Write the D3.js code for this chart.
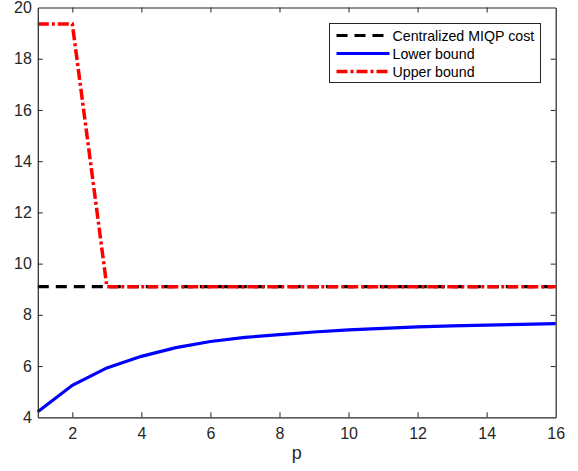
<!DOCTYPE html>
<html><head><meta charset="utf-8">
<script src="https://cdn.jsdelivr.net/npm/d3@7"></script>
<style>body{margin:0;background:#fff}svg{display:block}</style>
</head><body>
<svg id="c" width="578" height="471"></svg>
<script>
const pValues = [1,2,3,4,5,6,7,8,9,10,11,12,13,14,15,16];
const centralized = [9.1,9.1,9.1,9.1,9.1,9.1,9.1,9.1,9.1,9.1,9.1,9.1,9.1,9.1,9.1,9.1];
const lowerBound = [4.22,5.25,5.93,6.38,6.72,6.96,7.12,7.23,7.33,7.41,7.47,7.53,7.57,7.6,7.63,7.66];
const upperBound = [19.36,19.36,9.1,9.1,9.1,9.1,9.1,9.1,9.1,9.1,9.1,9.1,9.1,9.1,9.1,9.1];
const xTicks = [2,4,6,8,10,12,14,16];
const yTicks = [4,6,8,10,12,14,16,18,20];
const legendLabels = ["Centralized MIQP cost","Lower bound","Upper bound"];

const svg = d3.select("#c");
const L=37.8,R=555.7,T=7.5,B=417.3;
const x = d3.scaleLinear().domain([1,16]).range([L,R]);
const y = d3.scaleLinear().domain([4,20]).range([B,T]);
const font = "Liberation Sans, Arial, Helvetica, sans-serif";
const axCol = "#262626";

const line = d3.line().x((d,i)=>x(pValues[i])).y(d=>y(d));
const g = svg.append("g");
g.append("path").datum(centralized).attr("d",line).attr("fill","none")
  .attr("stroke","#000").attr("stroke-width",3.2).attr("stroke-dasharray","11,7");
g.append("path").datum(lowerBound).attr("d",line).attr("fill","none")
  .attr("stroke","#0000ff").attr("stroke-width",3.2);
g.append("path").datum(upperBound).attr("d",line).attr("fill","none")
  .attr("stroke","#ff0000").attr("stroke-width",3.5).attr("stroke-dasharray","11,3,3,3");

const tickLen = 5;
const xb = svg.append("g").attr("transform",`translate(0,${B})`)
  .call(d3.axisBottom(x).tickValues(xTicks).tickSizeInner(-tickLen).tickSizeOuter(0).tickPadding(10));
const xt = svg.append("g").attr("transform",`translate(0,${T})`)
  .call(d3.axisTop(x).tickValues(xTicks).tickSizeInner(-tickLen).tickSizeOuter(0).tickFormat(""));
const yl = svg.append("g").attr("transform",`translate(${L},0)`)
  .call(d3.axisLeft(y).tickValues(yTicks).tickSizeInner(-tickLen).tickSizeOuter(0).tickPadding(6));
const yr = svg.append("g").attr("transform",`translate(${R},0)`)
  .call(d3.axisRight(y).tickValues(yTicks).tickSizeInner(-tickLen).tickSizeOuter(0).tickFormat(""));
[xb,xt,yl,yr].forEach(a=>{
  a.select(".domain").attr("stroke",axCol).attr("stroke-width",1.2);
  a.selectAll(".tick line").attr("stroke",axCol).attr("stroke-width",1);
  a.selectAll(".tick text").attr("fill",axCol).style("font-family",font).style("font-size","16px");
});
xb.selectAll(".tick").filter(d=>d===16).select("line").remove();
xt.selectAll(".tick").filter(d=>d===16).select("line").remove();
yl.selectAll(".tick").filter(d=>d===20||d===4).select("line").remove();
yr.selectAll(".tick").filter(d=>d===20||d===4).select("line").remove();

svg.append("text").attr("x",(L+R)/2).attr("y",459).attr("text-anchor","middle")
  .attr("fill",axCol).style("font-family",font).style("font-size","18px").text("p");

const lg = svg.append("g");
lg.append("rect").attr("x",329.5).attr("y",23.5).attr("width",211).attr("height",59)
  .attr("fill","#fff").attr("stroke",axCol).attr("stroke-width",1);
const styles = [
  {c:"#000",w:3.2,da:"11,7"},
  {c:"#0000ff",w:3.2,da:null},
  {c:"#ff0000",w:3.5,da:"11,3,3,3"}
];
const rows=[35.5,53.5,71.5];
legendLabels.forEach((t,i)=>{
  const s=styles[i];
  const l=lg.append("line").attr("x1",336.5).attr("x2",389.5).attr("y1",rows[i]).attr("y2",rows[i])
    .attr("stroke",s.c).attr("stroke-width",s.w);
  if(s.da) l.attr("stroke-dasharray",s.da);
  lg.append("text").attr("x",392.5).attr("y",rows[i]).attr("dy","0.36em")
    .attr("fill","#000").style("font-family",font).style("font-size","14.2px").text(t);
});
</script>
</body></html>
